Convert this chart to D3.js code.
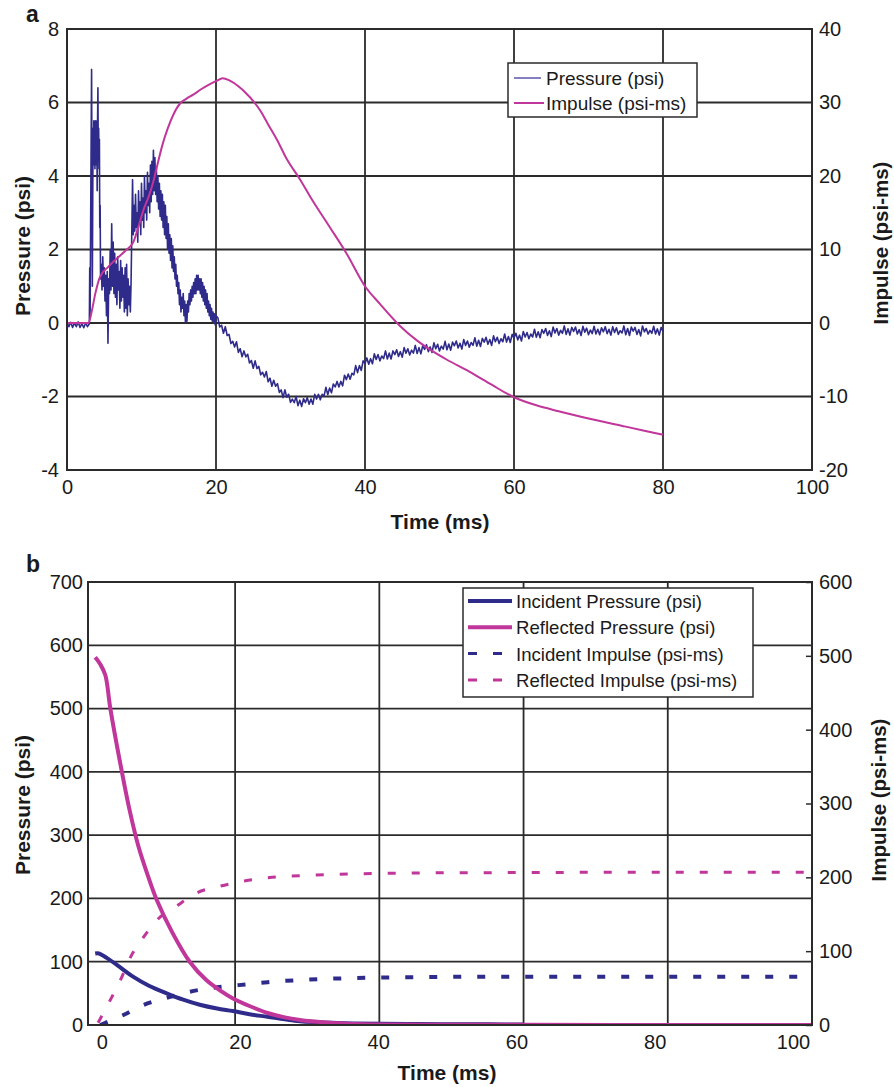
<!DOCTYPE html>
<html><head><meta charset="utf-8">
<script src="https://cdn.jsdelivr.net/npm/d3@7"></script>
<style>
html,body{margin:0;padding:0;background:#fff;}
text{font-family:"Liberation Sans",Arial,Helvetica,sans-serif;fill:#1a1a1a;}
</style></head>
<body>
<svg id="c" width="894" height="1087"></svg>
<script>
// ---------- Panel a data ----------
const timeTicksA = [0, 20, 40, 60, 80, 100];
const pressureTicksA = [-4, -2, 0, 2, 4, 6, 8];
const impulseTicksA = [-20, -10, 0, 10, 20, 30, 40];
const seriesNamesA = ["Pressure (psi)", "Impulse (psi-ms)"];
// [time ms, pressure psi] — 0 to 20 ms
const pressureEarlyA = [
[0,0.0],[0.25,-0.1],[0.5,0.02],[0.75,-0.12],[1.0,0.0],[1.25,-0.1],[1.5,0.03],[1.75,-0.12],[2.0,-0.02],[2.25,-0.13],[2.5,0.0],[2.75,-0.1],[3.0,-0.02],
[3.05,1.5],[3.1,0.2],[3.3,6.9],[3.4,1.0],[3.5,5.3],[3.55,4.3],[3.6,5.5],[3.65,4.4],[3.7,5.4],[3.75,4.2],[3.8,5.5],[3.85,4.5],[3.9,5.2],[3.95,4.3],
[4.0,5.5],[4.05,3.6],[4.1,5.4],[4.15,6.4],[4.2,4.4],[4.25,5.3],[4.3,4.2],[4.35,5.0],[4.4,2.6],[4.45,3.2],[4.5,1.2],
[4.6,1.6],[4.7,0.9],[4.8,1.8],[4.9,1.0],[5.0,1.5],[5.1,0.6],[5.2,1.3],[5.3,0.2],[5.4,1.4],[5.5,-0.55],[5.6,1.2],[5.7,0.8],[5.8,2.0],[5.9,0.9],
[6.0,2.7],[6.1,1.0],[6.2,2.2],[6.3,0.8],[6.4,1.9],[6.5,0.7],[6.6,1.6],[6.7,0.5],[6.8,1.8],[6.9,0.9],[7.0,1.4],[7.1,0.4],[7.2,1.7],[7.3,0.6],
[7.4,1.5],[7.5,0.7],[7.6,1.3],[7.7,0.3],[7.8,1.5],[7.9,0.4],[8.0,1.6],[8.1,0.2],[8.2,1.2],[8.3,0.5],[8.4,1.0],[8.5,0.3],[8.6,1.1],
[8.8,3.9],[8.9,2.4],[9.0,3.2],[9.1,2.5],[9.2,3.5],[9.3,2.6],[9.4,3.0],[9.5,2.2],[9.6,3.6],[9.7,2.7],[9.8,3.3],[9.9,2.4],[10.0,3.8],[10.1,2.8],
[10.2,3.4],[10.3,2.6],[10.4,4.0],[10.5,3.0],[10.6,3.6],[10.7,2.8],[10.8,4.1],[10.9,3.2],[11.0,3.8],[11.1,3.0],[11.2,4.3],[11.3,3.3],[11.4,4.4],
[11.5,3.5],[11.6,4.7],[11.7,3.6],[11.8,4.5],[11.9,3.5],[12.0,4.2],
[12.1,3.3],[12.2,4.0],[12.3,3.1],[12.4,3.8],[12.5,2.9],[12.6,3.6],[12.7,2.8],[12.8,3.5],[12.9,2.6],[13.0,3.3],[13.1,2.4],[13.2,3.2],[13.3,2.3],
[13.4,2.9],[13.5,2.0],[13.6,2.7],[13.7,1.9],[13.8,2.4],[13.9,1.7],[14.0,2.3],[14.1,1.5],[14.2,2.1],[14.3,1.4],[14.4,1.8],[14.5,1.2],[14.6,1.6],
[14.7,1.0],[14.8,1.3],[14.9,0.8],[15.0,1.1],[15.1,0.5],[15.2,0.9],[15.3,0.3],[15.4,0.7],[15.5,0.4],
[15.6,0.8],[15.7,0.2],[15.8,0.6],[15.9,0.0],[16.0,0.5],[16.1,0.05],[16.2,0.6],[16.3,0.3],[16.4,0.8],[16.5,0.5],[16.6,0.9],[16.7,0.6],[16.8,1.0],
[16.9,0.7],[17.0,1.1],[17.1,0.8],[17.2,1.2],[17.3,0.8],[17.4,1.3],[17.5,0.9],[17.6,1.3],[17.7,0.9],[17.8,1.2],[17.9,0.8],[18.0,1.2],[18.1,0.7],
[18.2,1.1],[18.3,0.6],[18.4,1.0],[18.5,0.5],[18.6,0.9],[18.7,0.4],[18.8,0.8],[18.9,0.3],[19.0,0.6],[19.1,0.2],[19.2,0.5],[19.3,0.1],[19.4,0.4],
[19.5,0.05],[19.6,0.3],[19.7,0.0],[19.8,0.25],[19.9,-0.05],[20.0,0.2]
];
// pressure psi sampled every 0.25 ms from 20.25 ms to 80 ms
const pressureLateStartA = 20.25, pressureLateStepA = 0.25;
const pressureLateA = [
0.14,-0.11,-0.06,-0.28,-0.10,-0.34,-0.31,-0.56,-0.50,-0.65,-0.51,-0.80,-0.70,-0.92,-0.76,-0.92,
-0.85,-1.09,-1.02,-1.23,-1.03,-1.24,-1.18,-1.41,-1.34,-1.47,-1.32,-1.60,-1.50,-1.72,-1.56,-1.72,
-1.65,-1.89,-1.82,-2.03,-1.82,-2.02,-1.94,-2.16,-2.07,-2.17,-2.00,-2.25,-2.10,-2.27,-2.06,-2.17,
-2.03,-2.21,-2.07,-2.21,-1.94,-2.07,-1.94,-2.09,-1.94,-1.99,-1.75,-1.95,-1.77,-1.90,-1.66,-1.74,
-1.59,-1.74,-1.59,-1.71,-1.42,-1.54,-1.39,-1.53,-1.37,-1.41,-1.16,-1.35,-1.16,-1.29,-1.03,-1.10,
-0.95,-1.12,-0.97,-1.11,-0.84,-0.99,-0.86,-1.03,-0.90,-0.97,-0.76,-0.98,-0.82,-0.98,-0.76,-0.86,
-0.73,-0.91,-0.78,-0.93,-0.67,-0.82,-0.70,-0.87,-0.74,-0.82,-0.61,-0.83,-0.67,-0.84,-0.62,-0.72,
-0.59,-0.78,-0.65,-0.80,-0.54,-0.70,-0.58,-0.76,-0.63,-0.71,-0.50,-0.73,-0.57,-0.74,-0.52,-0.62,
-0.49,-0.68,-0.55,-0.71,-0.45,-0.61,-0.49,-0.66,-0.53,-0.61,-0.40,-0.63,-0.47,-0.64,-0.42,-0.52,
-0.39,-0.58,-0.45,-0.61,-0.35,-0.51,-0.39,-0.56,-0.43,-0.51,-0.30,-0.52,-0.37,-0.53,-0.31,-0.41,
-0.28,-0.46,-0.33,-0.49,-0.23,-0.38,-0.26,-0.43,-0.30,-0.38,-0.17,-0.39,-0.24,-0.40,-0.18,-0.28,
-0.15,-0.34,-0.21,-0.37,-0.11,-0.27,-0.15,-0.33,-0.20,-0.28,-0.08,-0.31,-0.16,-0.33,-0.12,-0.23,
-0.11,-0.30,-0.18,-0.34,-0.09,-0.25,-0.14,-0.32,-0.19,-0.29,-0.09,-0.30,-0.17,-0.32,-0.13,-0.24,
-0.10,-0.29,-0.17,-0.33,-0.10,-0.26,-0.13,-0.31,-0.21,-0.27,-0.08,-0.32,-0.15,-0.34,-0.11,-0.22,
-0.12,-0.31,-0.18,-0.35,-0.08,-0.24,-0.15,-0.30,-0.20,-0.28,-0.09,-0.30,-0.16,-0.33,-0.12,-0.23
];
// [time ms, impulse psi-ms]
const impulseA = [
[0,0],[2.9,0],[3.3,1.5],[3.8,4],[4.4,6.2],[5.5,7.6],[6.5,8.6],[7.8,9.8],[8.9,11.0],[9.5,12.8],[10.3,15.5],[11.0,17.3],[11.6,19.3],
[12.2,21.8],[12.8,24.2],[13.5,26.4],[14.3,28.4],[15.2,29.9],[16.0,30.5],[17.0,31.1],[18.0,31.8],[19.0,32.4],[20.0,32.9],[20.9,33.3],
[21.8,33.0],[23.0,32.2],[24.0,31.3],[25.0,30.2],[26.0,28.8],[27.0,27.0],[28.2,24.9],[29.5,22.3],[31.3,19.5],[33.0,16.6],[35.3,13.0],
[37.5,9.5],[40.0,5.0],[42.0,2.6],[44.7,-0.4],[47.0,-2.4],[49.0,-3.8],[51.0,-5.0],[54.0,-6.6],[57.0,-8.4],[60.0,-10.1],[63.0,-11.2],
[66.0,-12.0],[70.0,-13.0],[75.0,-14.1],[80.0,-15.2]
];

// ---------- Panel b data ----------
const timeTicksB = [0, 20, 40, 60, 80, 100];
const pressureTicksB = [0, 100, 200, 300, 400, 500, 600, 700];
const impulseTicksB = [0, 100, 200, 300, 400, 500, 600];
const seriesNamesB = ["Incident Pressure (psi)", "Reflected Pressure (psi)", "Incident Impulse (psi-ms)", "Reflected Impulse (psi-ms)"];
const incidentPressure = [
[0.6,113],[1.1,113],[2.2,106],[3.6,95],[5.9,76],[8.05,62],[10.5,50],[12.8,40],[15.1,32],[17.5,26],[19.7,22],[22.0,17],[24.5,13],
[26.9,9],[29.0,6],[31.4,4.5],[33.4,3.5],[36.4,2.5],[40.4,2],[45.3,1.5],[50.3,1.2],[55.3,1.0],[60.0,0.8]
];
const reflectedPressure = [
[0.6,581],[1.3,570],[2.0,553],[2.7,500],[4.3,400],[5.4,338],[6.6,282],[7.9,236],[9.15,197],[11.3,146],[13.7,100],[16.0,71],[18.0,54],
[19.7,42],[22.0,30],[24.5,19],[26.9,12],[29.0,8],[31.4,5],[33.6,3],[36.4,1.5],[40.4,0.8],[50.3,0.3],[60.2,0.2],[80.1,0.1],[100,0]
];
const incidentImpulse = [
[1.3,0],[4.5,13.5],[7.3,27],[11.0,38],[13.7,45],[17.5,51],[20.5,54],[24.5,58],[31.4,62],[38.4,64],[47.3,65],[60.2,65.5],[80.1,65.5],[98,65.5]
];
const reflectedImpulse = [
[1.0,3],[2.7,34],[4.1,61],[5.5,92],[7.3,119],[9.15,142],[12.0,162],[14.7,179],[17.9,188],[21.3,195],[25.1,200],[30.9,203],
[37.9,205],[47.0,206],[60.2,206.5],[80.1,207],[99,207]
];

// ---------- drawing ----------
const BLUE = "#2f2b8a", MAG = "#c0369a", GRID = "#2b2b2b";
const svg = d3.select("#c");
const fmt = d => String(d);
const pressureA = pressureEarlyA.concat(pressureLateA.map((v, i) => [pressureLateStartA + i * pressureLateStepA, v]));

function frame(g, x, y, xTicks, yTicks, id) {
  const [x0, x1] = x.range(), [y0, y1] = y.range();
  g.append("clipPath").attr("id", id).append("rect")
    .attr("x", x0).attr("y", y1).attr("width", x1 - x0).attr("height", y0 - y1);
  g.append("rect").attr("x", x0).attr("y", y1).attr("width", x1 - x0).attr("height", y0 - y1).attr("fill", "#fff");
  g.selectAll(".gx").data(xTicks).join("line")
    .attr("x1", d => x(d)).attr("x2", d => x(d)).attr("y1", y0).attr("y2", y1)
    .attr("stroke", GRID).attr("stroke-width", 1.8);
  g.selectAll(".gy").data(yTicks).join("line")
    .attr("y1", d => y(d)).attr("y2", d => y(d)).attr("x1", x0).attr("x2", x1)
    .attr("stroke", GRID).attr("stroke-width", 1.8);
}
function border(g, x, y) {
  const [x0, x1] = x.range(), [y0, y1] = y.range();
  g.append("rect").attr("x", x0).attr("y", y1).attr("width", x1 - x0).attr("height", y0 - y1)
    .attr("fill", "none").attr("stroke", GRID).attr("stroke-width", 2);
}
function styleAxis(sel, size) {
  sel.select(".domain").remove();
  sel.selectAll("text").style("font-size", size + "px").attr("fill", "#1a1a1a");
  sel.selectAll("line").attr("stroke", GRID).attr("stroke-width", 1.5);
}

// ===== Panel a =====
{
  const g = svg.append("g");
  const x = d3.scaleLinear([0, 100], [67, 812]);
  const yL = d3.scaleLinear([-4, 8], [470, 29]);
  const yR = d3.scaleLinear([-20, 40], [470, 29]);
  frame(g, x, yL, [20, 40, 60, 80], [-2, 0, 2, 4, 6], "clipA");
  const plot = g.append("g").attr("clip-path", "url(#clipA)");
  plot.append("path").datum(pressureA)
    .attr("d", d3.line().x(d => x(d[0])).y(d => yL(d[1])))
    .attr("fill", "none").attr("stroke", BLUE).attr("stroke-width", 1.6).attr("stroke-linejoin", "round");
  plot.append("path").datum(impulseA)
    .attr("d", d3.line().curve(d3.curveMonotoneX).x(d => x(d[0])).y(d => yR(d[1])))
    .attr("fill", "none").attr("stroke", MAG).attr("stroke-width", 2);
  border(g, x, yL);

  g.append("g").attr("transform", "translate(0,470)")
    .call(d3.axisBottom(x).tickValues(timeTicksA).tickSize(0).tickPadding(10).tickFormat(fmt))
    .call(s => styleAxis(s, 20));
  g.append("g").attr("transform", "translate(67,0)")
    .call(d3.axisLeft(yL).tickValues(pressureTicksA).tickSize(0).tickPadding(8).tickFormat(fmt))
    .call(s => styleAxis(s, 20));
  g.append("g").attr("transform", "translate(812,0)")
    .call(d3.axisRight(yR).tickValues(impulseTicksA).tickSize(0).tickPadding(7).tickFormat(fmt))
    .call(s => styleAxis(s, 20));

  g.append("text").attr("x", 440).attr("y", 529).attr("text-anchor", "middle")
    .style("font-size", "21px").style("font-weight", "bold").text("Time (ms)");
  g.append("text").attr("transform", "translate(30,246) rotate(-90)").attr("text-anchor", "middle")
    .style("font-size", "21px").style("font-weight", "bold").text("Pressure (psi)");
  g.append("text").attr("transform", "translate(888,243) rotate(-90)").attr("text-anchor", "middle")
    .style("font-size", "20.5px").style("font-weight", "bold").text("Impulse (psi-ms)");
  g.append("text").attr("x", 26).attr("y", 22)
    .style("font-size", "23px").style("font-weight", "bold").text("a");

  // legend
  const lg = g.append("g");
  lg.append("rect").attr("x", 508).attr("y", 63).attr("width", 189).attr("height", 54)
    .attr("fill", "#fff").attr("stroke", GRID).attr("stroke-width", 1.5);
  seriesNamesA.forEach((n, i) => {
    const yy = 78 + i * 25;
    lg.append("line").attr("x1", 514).attr("x2", i === 0 ? 541 : 544).attr("y1", yy).attr("y2", yy)
      .attr("stroke", i === 0 ? "#5a55b5" : MAG).attr("stroke-width", i === 0 ? 1.5 : 2);
    lg.append("text").attr("x", 546).attr("y", yy + 7).style("font-size", "19px").text(n);
  });
}

// ===== Panel b =====
{
  const g = svg.append("g");
  const x = d3.scaleLinear([-0.4, 100], [88, 812]);
  const timeLabelScaleB = d3.scaleLinear([0, 100], [101.7, 793]); // tick labels sit offset from the grid in the original
  const yL = d3.scaleLinear([0, 700], [1025, 582]);
  const yR = d3.scaleLinear([0, 600], [1025, 582]);
  frame(g, x, yL, [20, 40, 60, 80], [100, 200, 300, 400, 500, 600], "clipB");
  const plot = g.append("g").attr("clip-path", "url(#clipB)");
  const lineL = d3.line().curve(d3.curveCatmullRom).x(d => x(d[0])).y(d => yL(d[1]));
  const lineR = d3.line().curve(d3.curveMonotoneX).x(d => x(d[0])).y(d => yR(d[1]));
  plot.append("path").datum(reflectedImpulse).attr("d", lineR)
    .attr("fill", "none").attr("stroke", MAG).attr("stroke-width", 3).attr("stroke-dasharray", "8,16");
  plot.append("path").datum(incidentImpulse).attr("d", lineR)
    .attr("fill", "none").attr("stroke", BLUE).attr("stroke-width", 4).attr("stroke-dasharray", "8,16");
  plot.append("path").datum(incidentPressure).attr("d", lineL)
    .attr("fill", "none").attr("stroke", BLUE).attr("stroke-width", 4);
  plot.append("path").datum(reflectedPressure).attr("d", lineL)
    .attr("fill", "none").attr("stroke", MAG).attr("stroke-width", 4);
  border(g, x, yL);

  g.append("g").attr("transform", "translate(0,1025)")
    .call(d3.axisBottom(timeLabelScaleB).tickValues(timeTicksB).tickSize(0).tickPadding(10).tickFormat(fmt))
    .call(s => styleAxis(s, 20));
  g.append("g").attr("transform", "translate(88,0)")
    .call(d3.axisLeft(yL).tickValues(pressureTicksB).tickSize(0).tickPadding(5).tickFormat(fmt))
    .call(s => styleAxis(s, 20));
  g.append("g").attr("transform", "translate(812,0)")
    .call(d3.axisRight(yR).tickValues(impulseTicksB).tickSizeInner(-6).tickSizeOuter(0).tickPadding(7).tickFormat(fmt))
    .call(s => styleAxis(s, 20));

  g.append("text").attr("x", 447).attr("y", 1080).attr("text-anchor", "middle")
    .style("font-size", "21px").style("font-weight", "bold").text("Time (ms)");
  g.append("text").attr("transform", "translate(30,805) rotate(-90)").attr("text-anchor", "middle")
    .style("font-size", "21px").style("font-weight", "bold").text("Pressure (psi)");
  g.append("text").attr("transform", "translate(886,800) rotate(-90)").attr("text-anchor", "middle")
    .style("font-size", "20.5px").style("font-weight", "bold").text("Impulse (psi-ms)");
  g.append("text").attr("x", 26).attr("y", 572)
    .style("font-size", "23px").style("font-weight", "bold").text("b");

  // legend
  const lg = g.append("g");
  lg.append("rect").attr("x", 463).attr("y", 588).attr("width", 290).attr("height", 109)
    .attr("fill", "#fff").attr("stroke", GRID).attr("stroke-width", 1.5);
  const colsB = [BLUE, MAG, BLUE, MAG];
  seriesNamesB.forEach((n, i) => {
    const yy = 601 + i * 26.3;
    const ln = lg.append("line").attr("x1", 468).attr("x2", i < 2 ? 512 : 503).attr("y1", yy).attr("y2", yy)
      .attr("stroke", colsB[i]).attr("stroke-width", i < 2 ? 4 : 3);
    if (i >= 2) ln.attr("stroke-dasharray", "9,16");
    lg.append("text").attr("x", 516).attr("y", yy + 7).style("font-size", "18.6px").text(n);
  });
}
</script>
</body></html>
